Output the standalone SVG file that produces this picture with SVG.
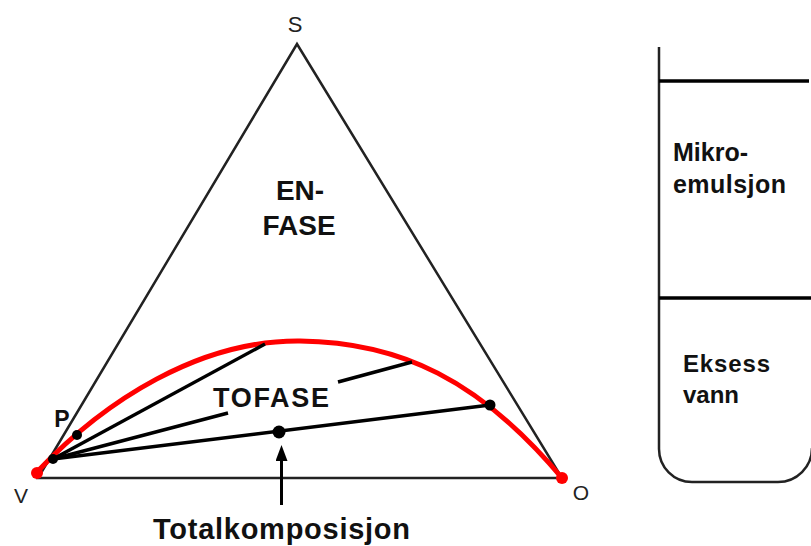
<svg xmlns="http://www.w3.org/2000/svg" width="811" height="546" viewBox="0 0 811 546">
<defs>
<style>
.lbl{font-family:"Liberation Sans",Arial,sans-serif;fill:#222}
.b{font-weight:bold;fill:#111}
.thin{stroke:#222;stroke-width:2.5;fill:none}
.tie{stroke:#000;stroke-width:3.5;fill:none}
.dot{fill:#000}
</style>
<marker id="ah" viewBox="0 0 16 12" refX="1" refY="6" markerWidth="16" markerHeight="12" markerUnits="userSpaceOnUse" orient="auto">
<path d="M0,0 L16,6 L0,12 Z" fill="#000"/>
</marker>
</defs>
<rect width="811" height="546" fill="#fff"/>
<g id="triangle">
<path class="thin" d="M38,478 L297,44 L562,478 Z" stroke-linejoin="miter"/>
</g>
<g id="binodal">
<path d="M37,472 C105,400 200,340 300,341 C400,342 480,380 562,478" fill="none" stroke="#f00" stroke-width="5"/>
<circle cx="37" cy="473" r="6" fill="#f00"/>
<circle cx="562" cy="478" r="6" fill="#f00"/>
</g>
<g id="connectors">
<line class="tie" x1="53" y1="459" x2="265" y2="344"/>
<line class="tie" x1="53" y1="459" x2="228" y2="413"/>
<line class="tie" x1="338" y1="382" x2="412" y2="362"/>
<line class="tie" x1="53" y1="459" x2="490" y2="405"/>
<line stroke="#000" stroke-width="3" x1="281.5" y1="505" x2="281.5" y2="460" marker-end="url(#ah)"/>
</g>
<g id="points">
<circle class="dot" cx="53" cy="459" r="5"/>
<circle class="dot" cx="77" cy="435" r="5"/>
<circle class="dot" cx="279" cy="432" r="6.5"/>
<circle class="dot" cx="490" cy="405" r="5.5"/>
</g>
<g id="labels">
<text class="lbl" x="295" y="32" font-size="22" text-anchor="middle">S</text>
<text class="lbl" x="21" y="503" font-size="21" text-anchor="middle">V</text>
<text class="lbl" x="581" y="500" font-size="21" text-anchor="middle">O</text>
<text class="lbl b" x="62" y="427" font-size="23" text-anchor="middle">P</text>
<text class="lbl b" x="300" y="200" font-size="28" text-anchor="middle">EN-</text>
<text class="lbl b" x="299" y="235" font-size="28" text-anchor="middle">FASE</text>
<text class="lbl b" x="213" y="407" font-size="27" textLength="116">TOFASE</text>
<text class="lbl b" x="153" y="539" font-size="29" textLength="257">Totalkomposisjon</text>
</g>
<g id="tube">
<path class="thin" d="M659,47 L659,449 A33,33 0 0 0 692,482 L778,482 A34,34 0 0 0 812,448" stroke="#111" stroke-width="3"/>
<line x1="659" y1="81" x2="809" y2="81" stroke="#000" stroke-width="3.5"/>
<line x1="659" y1="298" x2="811" y2="298" stroke="#000" stroke-width="3.5"/>
<text class="lbl b" x="673" y="161" font-size="25">Mikro-</text>
<text class="lbl b" x="673" y="193" font-size="25" textLength="113">emulsjon</text>
<text class="lbl b" x="683" y="372" font-size="24" textLength="87">Eksess</text>
<text class="lbl b" x="683" y="403" font-size="24">vann</text>
</g>
</svg>
